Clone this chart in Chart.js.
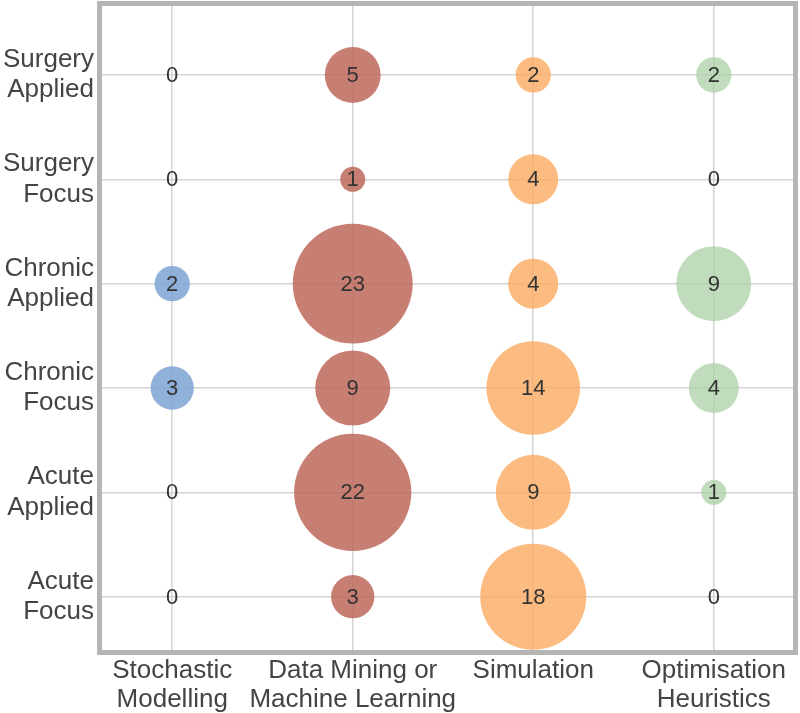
<!DOCTYPE html>
<html>
<head>
<meta charset="utf-8">
<script src="https://cdn.jsdelivr.net/npm/chart.js@4/dist/chart.umd.min.js"></script>
<style>
  html, body { margin: 0; padding: 0; background: #fff; }
  #wrap { width: 800px; height: 713px; }
</style>
</head>
<body>
<div id="wrap"><canvas id="bubbles"></canvas></div>
<script>
// categories along x (methods) and y (areas, bottom to top)
const methods = [ [ 'Stochastic', 'Modelling' ], [ 'Data Mining or', 'Machine Learning' ], [ 'Simulation' ], [ 'Optimisation', 'Heuristics' ] ]
const areas = [ [ 'Acute', 'Focus' ], [ 'Acute', 'Applied' ], [ 'Chronic', 'Focus' ], [ 'Chronic', 'Applied' ], [ 'Surgery', 'Focus' ], [ 'Surgery', 'Applied' ] ]

// counts per method, listed in the same order as areas
const stochastic = [ 0, 0, 3, 2, 0, 0 ]
const dataMining = [ 3, 22, 9, 23, 1, 5 ]
const simulation = [ 18, 9, 14, 4, 4, 2 ]
const optimisation = [ 0, 1, 4, 9, 0, 2 ]

const colours = [ 'rgba(125,163,212,0.85)', 'rgba(190,105,90,0.85)', 'rgba(251,172,100,0.82)', 'rgba(172,208,167,0.75)' ]
const series = [ stochastic, dataMining, simulation, optimisation ]

const datasets = series.map( ( counts, col ) => ( {
    label: methods[ col ].join( ' ' ),
    data: counts.map( ( n, row ) => ( { x: col, y: row, r: Math.sqrt( n ) * 12.5, n: n } ) ),
    backgroundColor: colours[ col ],
    borderWidth: 0,
    hoverBorderWidth: 0,
    clip: false
} ) )

// value labels at each point, and the thick grey frame round the plot
const countLabels = {
    id: 'countLabels',
    afterDatasetsDraw ( chart ) {
        const c = chart.ctx
        c.save()
        c.font = '22px "Liberation Sans", Arial, sans-serif'
        c.fillStyle = '#333'
        c.textAlign = 'center'
        c.textBaseline = 'middle'
        chart.data.datasets.forEach( ( ds, i ) => {
            chart.getDatasetMeta( i ).data.forEach( ( pt, j ) => {
                c.fillText( String( ds.data[ j ].n ), pt.x, pt.y + 1 )
            } )
        } )
        const a = chart.chartArea
        c.strokeStyle = '#b5b5b5'
        c.lineWidth = 5
        c.strokeRect( a.left - 0.5, a.top - 0.5, a.right - a.left + 1, a.bottom - a.top + 1 )
        c.restore()
    }
}

const tickFont = { family: '"Liberation Sans", Arial, sans-serif', size: 26, lineHeight: 1.13 }

new Chart( document.getElementById( 'bubbles' ), {
    type: 'bubble',
    data: { datasets },
    plugins: [ countLabels ],
    options: {
        responsive: true,
        maintainAspectRatio: false,
        animation: false,
        layout: { autoPadding: false, padding: { top: 4, right: 5, left: 0, bottom: 0 } },
        plugins: { legend: { display: false }, tooltip: { enabled: false } },
        scales: {
            x: {
                type: 'linear',
                min: -0.4,
                max: 3.45,
                afterBuildTicks: s => { s.ticks = methods.map( ( m, i ) => ( { value: i } ) ) },
                afterFit: s => { s.paddingLeft = 0; s.paddingRight = 0; s.height = 61 },
                ticks: {
                    autoSkip: false,
                    maxRotation: 0,
                    padding: 4,
                    color: '#444',
                    font: tickFont,
                    callback: v => methods[ v ]
                },
                grid: { color: '#d4d4d4', lineWidth: 1.5, drawTicks: false },
                border: { display: false }
            },
            y: {
                type: 'linear',
                min: -0.53,
                max: 5.68,
                afterBuildTicks: s => { s.ticks = areas.map( ( a, i ) => ( { value: i } ) ) },
                afterFit: s => { s.paddingTop = 0; s.paddingBottom = 0; s.width = 100 },
                ticks: {
                    autoSkip: false,
                    padding: 6,
                    color: '#444',
                    font: { family: '"Liberation Sans", Arial, sans-serif', size: 26, lineHeight: 1.16 },
                    callback: v => areas[ v ]
                },
                grid: { color: '#d4d4d4', lineWidth: 1.5, drawTicks: false },
                border: { display: false }
            }
        }
    }
} )
</script>
</body>
</html>
